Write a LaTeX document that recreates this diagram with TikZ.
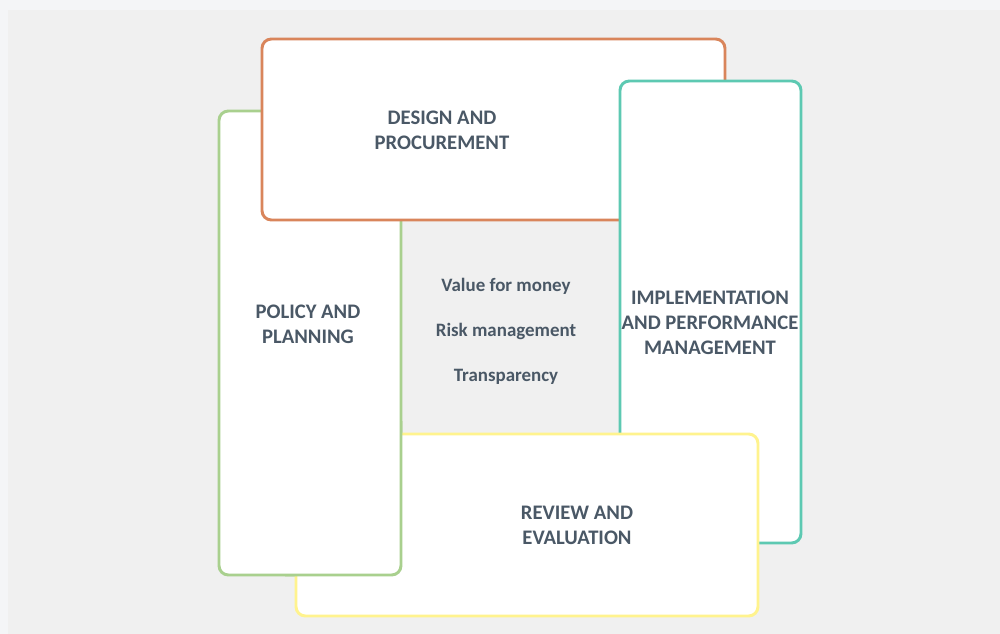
\documentclass[tikz,border=0pt]{standalone}
\usepackage{fontspec}
\setmainfont{Carlito}
\usetikzlibrary{positioning}

\definecolor{pagegray}{HTML}{F4F5F7}
\definecolor{panelgray}{HTML}{F0F0F0}
\definecolor{inkslate}{HTML}{4A5866}
\definecolor{edgeorange}{HTML}{D9855B}
\definecolor{edgegreen}{HTML}{A9D08E}
\definecolor{edgeteal}{HTML}{5DC9B2}
\definecolor{edgeyellow}{HTML}{FFF38E}

\tikzset{
  stagebox/.style={draw,fill=white,line width=2.2pt,rounded corners=7pt,inner sep=0pt},
  stagetext/.style={font=\fontsize{15.5}{18.75}\selectfont\bfseries,text=inkslate,align=center},
  valuetext/.style={font=\fontsize{14.2}{16}\selectfont\bfseries,text=inkslate}
}

\begin{document}
\begin{tikzpicture}[x=0.75pt,y=-0.75pt]

\fill[pagegray] (0,0) rectangle (1000,634);
\fill[panelgray] (8,10) rectangle (1000,634);
\useasboundingbox (0,0) rectangle (1000,634);

% the four stages, drawn round the cycle
\node[stagebox,draw=edgegreen,minimum width=182*0.75pt,minimum height=464*0.75pt] (policy) at (310,343) {};
\node[stagebox,draw=edgeorange,minimum width=463*0.75pt,minimum height=181*0.75pt] (design) at (493.5,129.5) {};
\node[stagebox,draw=edgeteal,minimum width=181*0.75pt,minimum height=462*0.75pt] (implement) at (710.5,312) {};
\node[stagebox,draw=edgeyellow,minimum width=462*0.75pt,minimum height=182*0.75pt] (review) at (527,525) {};

% green goes back over yellow at the bottom
\begin{scope}
\clip (285,422) rectangle (420,600);
\node[stagebox,draw=edgegreen,minimum width=182*0.75pt,minimum height=464*0.75pt] (policylow) at (310,343) {};
\end{scope}

% labels
\node[stagetext] (policylabel) at (308,324) {POLICY AND\\PLANNING};
\node[stagetext] (designlabel) at (442,130) {DESIGN AND\\PROCUREMENT};
\node[stagetext] (implementlabel) at (710,323) {IMPLEMENTATION\\AND PERFORMANCE\\MANAGEMENT};
\node[stagetext] (reviewlabel) at (577,525) {REVIEW AND\\EVALUATION};

% values in the middle
\node[valuetext] (money) at (506,286) {Value for money};
\node[valuetext] (risk) at (506,331) {Risk management};
\node[valuetext] (transparency) at (506,377) {Transparency};

\end{tikzpicture}
\end{document}
